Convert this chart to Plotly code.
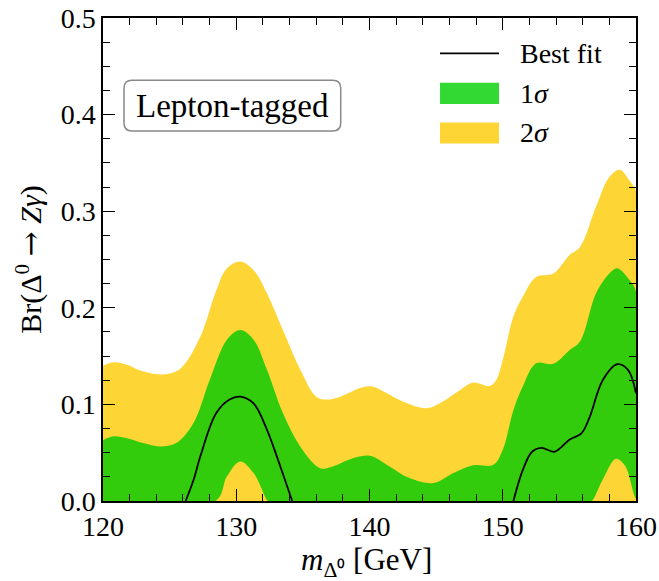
import plotly.graph_objects as go

# 2-sigma upper edge
x_2s = [120, 120.8, 121.8, 122.8, 124.5, 125.8, 127.3, 128.5, 129.3, 130.3, 131.3, 132.3,
        133.5, 134.8, 136.0, 136.8, 137.8, 139.3, 140.2, 141.3, 142.5, 144.3, 145.5, 146.8,
        147.8, 149.0, 149.5, 150.0, 150.8, 151.5, 152.5, 153.8, 155.0, 155.8, 157.0, 158.0,
        158.8, 159.5, 160.0]
y_2s = [0.140, 0.1437, 0.141, 0.135, 0.131, 0.137, 0.170, 0.218, 0.241, 0.248, 0.239, 0.215,
        0.177, 0.136, 0.108, 0.105, 0.108, 0.117, 0.1185, 0.1116, 0.103, 0.096, 0.103, 0.115,
        0.1226, 0.119, 0.125, 0.146, 0.191, 0.2115, 0.232, 0.2356, 0.2545, 0.263, 0.3045, 0.3355,
        0.343, 0.332, 0.322]

# 1-sigma upper edge
x_1s_up = [120, 120.8, 121.8, 123.0, 124.3, 125.5, 126.8, 128.0, 129.3, 130.3, 131.3, 132.3,
           133.5, 134.8, 136.3, 137.3, 138.5, 140.0, 141.5, 143.0, 144.8, 146.3, 147.8, 149.3,
           150.0, 150.8, 151.5, 152.5, 153.8, 155.0, 155.8, 157.0, 158.0, 158.6, 159.5, 160.0]
y_1s_up = [0.063, 0.067, 0.065, 0.060, 0.0565, 0.060, 0.081, 0.125, 0.167, 0.177, 0.167, 0.136,
           0.091, 0.0565, 0.034, 0.036, 0.043, 0.0468, 0.0358, 0.0238, 0.0186, 0.029, 0.0369, 0.0375,
           0.053, 0.094, 0.1185, 0.1426, 0.142, 0.156, 0.165, 0.215, 0.2356, 0.241, 0.229, 0.2167]

# 1-sigma lower edge
x_1s_lo = [120, 128.45, 129.3, 130.3, 131.3, 132.3, 132.4, 156.6, 156.7, 157.5, 158.5, 159.2, 160.0]
y_1s_lo = [0.0, 0.0, 0.0255, 0.041, 0.029, 0.001, 0.0, 0.0, 0.0, 0.022, 0.0437, 0.036, 0.003]

# best fit (two segments)
x_bf1 = [126.2, 126.8, 127.3, 128.5, 129.5, 130.3, 131.3, 132.3, 133.3, 134.2]
y_bf1 = [0.0, 0.022, 0.046, 0.091, 0.105, 0.108, 0.101, 0.074, 0.036, 0.0]
x_bf2 = [150.8, 151.5, 152.2, 152.9, 153.9, 155.0, 155.9, 156.5, 157.5, 158.6, 159.4, 160.0]
y_bf2 = [0.0, 0.032, 0.051, 0.055, 0.051, 0.0634, 0.070, 0.086, 0.125, 0.1416, 0.1357, 0.1116]

legend_labels = ["Best fit", "1<i>σ</i>", "2<i>σ</i>"]

YELLOW = "#FDD535"
GREEN = "#33CC0C"
GREEN_LEG = "#33D933"
FONT = "Liberation Serif"

fig = go.Figure()

fig.add_trace(go.Scatter(x=x_2s, y=y_2s, mode="lines", line=dict(width=0, shape="spline", smoothing=1.0),
                         fill="tozeroy", fillcolor=YELLOW, showlegend=False, hoverinfo="skip"))
fig.add_trace(go.Scatter(x=x_1s_up + x_1s_lo[::-1], y=y_1s_up + y_1s_lo[::-1], mode="lines",
                         line=dict(width=0, shape="spline", smoothing=1.0),
                         fill="toself", fillcolor=GREEN, showlegend=False, hoverinfo="skip"))
fig.add_trace(go.Scatter(x=x_bf1, y=y_bf1, mode="lines", line=dict(color="black", width=1.8, shape="spline"),
                         showlegend=False))
fig.add_trace(go.Scatter(x=x_bf2, y=y_bf2, mode="lines", line=dict(color="black", width=1.8, shape="spline"),
                         showlegend=False))

axis_common = dict(showline=True, linewidth=1.5, linecolor="black", mirror="allticks",
                   ticks="inside", ticklen=12, tickwidth=1.3, tickcolor="black",
                   showgrid=False, zeroline=False, automargin=False,
                   tickfont=dict(family=FONT, size=28, color="black"))

fig.update_xaxes(range=[120, 160], dtick=10, tick0=120,
                 minor=dict(ticks="inside", ticklen=7, tickwidth=1.1, dtick=2, tickcolor="black"),
                 ticklabelstandoff=0, **axis_common)
fig.update_yaxes(range=[0, 0.5], dtick=0.1, tick0=0, tickformat=".1f",
                 minor=dict(ticks="inside", ticklen=7, tickwidth=1.1, dtick=0.025, tickcolor="black"),
                 title=dict(text="Br(Δ<sup>0</sup> <span style=\"font-family:DejaVu Serif\">→</span> <i>Zγ</i>)",
                            font=dict(family=FONT, size=30, color="black"), standoff=10),
                 ticklabelstandoff=0, **axis_common)

# x-axis title as annotation for exact placement
fig.add_annotation(text="<i>m</i><sub>Δ⁰</sub> [GeV]", x=0.495, y=-0.127, xref="paper", yref="paper",
                   xanchor="center", yanchor="middle", showarrow=False,
                   font=dict(family=FONT, size=31, color="black"))

# rounded label box
x0, x1, y0, y1 = 0.0394, 0.446, 0.766, 0.871
rx, ry = 0.015, 0.0165
path = (f"M{x0+rx},{y1} L{x1-rx},{y1} Q{x1},{y1} {x1},{y1-ry} L{x1},{y0+ry} Q{x1},{y0} {x1-rx},{y0} "
        f"L{x0+rx},{y0} Q{x0},{y0} {x0},{y0+ry} L{x0},{y1-ry} Q{x0},{y1} {x0+rx},{y1} Z")
fig.add_shape(type="path", path=path, xref="paper", yref="paper",
              line=dict(color="#888888", width=1.5), fillcolor="white", layer="above")
fig.add_annotation(text="Lepton-tagged", x=(x0 + x1) / 2, y=(y0 + y1) / 2, xref="paper", yref="paper",
                   xanchor="center", yanchor="middle",
                   showarrow=False, font=dict(family=FONT, size=33, color="black"))

# manual legend
lx0, lx1, ltx = 0.6323, 0.743, 0.778
fig.add_shape(type="line", x0=lx0, x1=lx1, y0=0.9266, y1=0.9266, xref="paper", yref="paper",
              line=dict(color="black", width=1.8), layer="above")
fig.add_shape(type="rect", x0=lx0, x1=lx1, y0=0.8218, y1=0.866, xref="paper", yref="paper",
              line=dict(width=0), fillcolor=GREEN_LEG, layer="above")
fig.add_shape(type="rect", x0=lx0, x1=lx1, y0=0.740, y1=0.7834, xref="paper", yref="paper",
              line=dict(width=0), fillcolor=YELLOW, layer="above")
for lab, yy in zip(legend_labels, [0.9266, 0.844, 0.7633]):
    fig.add_annotation(text=lab, x=ltx, y=yy, xref="paper", yref="paper", xanchor="left", yanchor="middle",
                       showarrow=False, font=dict(family=FONT, size=28, color="black"))

fig.update_layout(
    template="none",
    width=659, height=581,
    margin=dict(l=103, r=23, t=18, b=80),
    paper_bgcolor="white", plot_bgcolor="white",
    showlegend=False,
)

fig.write_html("out.html")
